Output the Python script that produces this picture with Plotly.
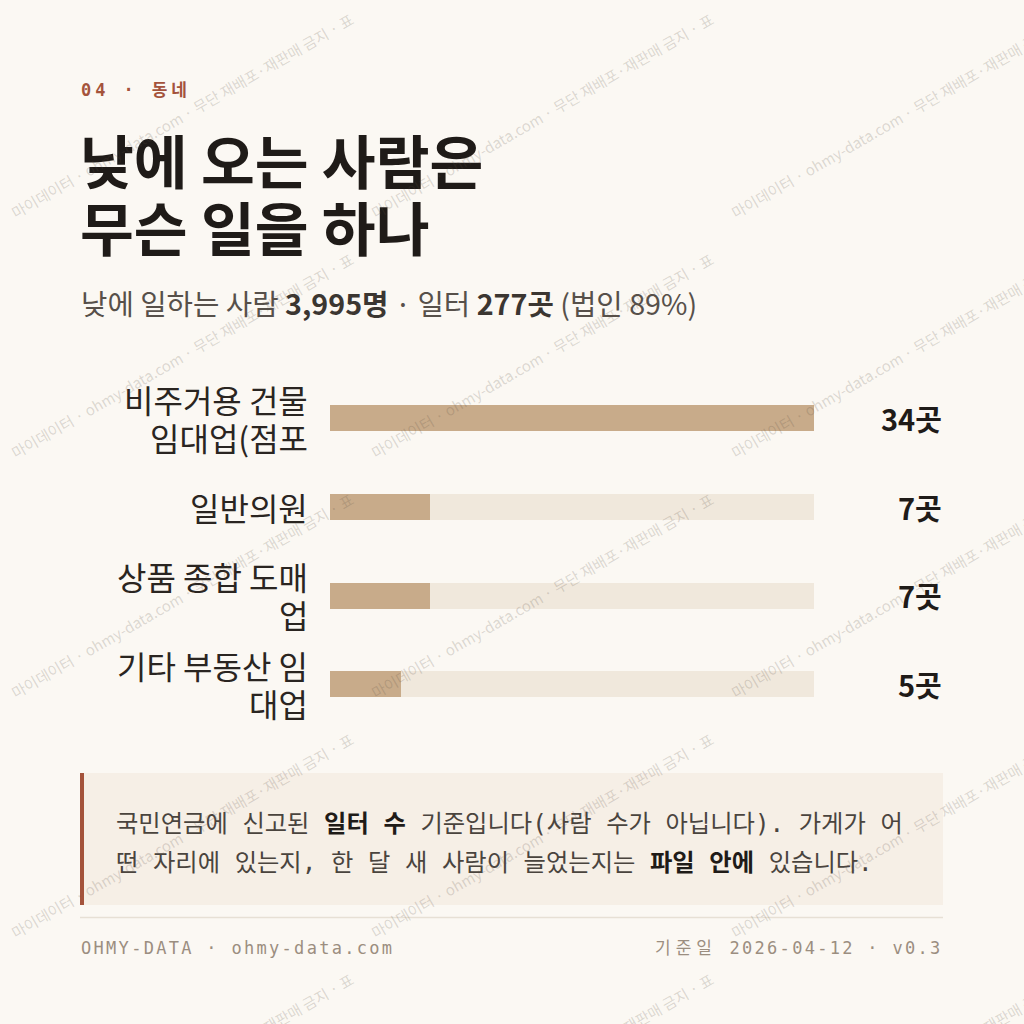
import plotly.graph_objects as go

W = H = 1024

# ---------------- data ----------------
categories = ["비주거용 건물 임대업(점포", "일반의원", "상품 종합 도매업", "기타 부동산 임대업"]
counts = [34, 7, 7, 5]
unit = "곳"

kicker = "04 · 동네"
title_lines = ["낮에 오는 사람은", "무슨 일을 하나"]
workers = "3,995명"
workplaces = "277곳"
corp_share = "89%"
note_line1 = ["국민연금에 신고된 ", "일터 수", " 기준입니다(사람 수가 아닙니다). 가게가 어"]
note_line2 = ["떤 자리에 있는지, 한 달 새 사람이 늘었는지는 ", "파일 안에", " 있습니다."]
footer_left = "OHMY-DATA · ohmy-data.com"
footer_right_label = "기준일"
footer_right_value = "2026-04-12 · v0.3"
watermark = "마이데이터 · ohmy-data.com · 무단 재배포·재판매 금지 · 표"

# ---------------- style ----------------
BG = "#fbf8f3"
BAR = "#c8ab8a"
TRACK = "#f0e8dc"
BOX = "#f6efe6"
RUST = "#a4533b"
INK = "#1f1b18"
SUB = "#57504a"
MUTED = "#9b8e80"
SANS = "Noto Sans CJK KR, Noto Sans, sans-serif"
MONO = "DejaVu Sans Mono, Noto Sans Mono CJK KR, Noto Sans CJK KR, monospace"


def px(x):
    return x / W


def py(y):
    return 1 - y / H


def wrap(label, maxw=7.0):
    lines, cur, w = [], "", 0.0
    for ch in label:
        cw = 0.25 if ch == " " else (0.35 if ch in "()" else 1.0)
        if w + cw > maxw and ch != " ":
            lines.append(cur.rstrip())
            cur, w = ch, cw
        else:
            cur += ch
            w += cw
    lines.append(cur.rstrip())
    return lines


fig = go.Figure()
n = len(categories)
vmax = max(counts)
bar_w = 0.293

fig.add_trace(go.Bar(
    x=[vmax] * n, y=categories, orientation="h", width=bar_w,
    marker=dict(color=TRACK, line=dict(width=0)), hoverinfo="skip", showlegend=False))
fig.add_trace(go.Bar(
    x=counts, y=categories, orientation="h", width=bar_w,
    marker=dict(color=BAR, line=dict(width=0)), hoverinfo="skip", showlegend=False))

# plot area geometry (pixels)
x0, x1 = 330, 814
row_first, row_last = 418, 684
step = (row_last - row_first) / (n - 1)
ytop = row_first - step / 2
ybot = row_last + step / 2

ann = []


def text(x, y, t, size, color, family=SANS, xanchor="left", yanchor="middle", **kw):
    ann.append(dict(x=px(x), y=py(y), xref="paper", yref="paper", text=t, showarrow=False,
                    xanchor=xanchor, yanchor=yanchor, font=dict(size=size, color=color, family=family),
                    **kw))


# kicker
text(79, 90, f'<span style="letter-spacing:3.9px"><b>{kicker}</b></span>', 17, RUST, MONO)
# title
text(78, 158, f"<b>{title_lines[0]}</b>", 58.5, INK)
text(78, 225, f"<b>{title_lines[1]}</b>", 58.5, INK)
# subtitle
text(79, 302,
     f'낮에 일하는 사람 <b><span style="color:#3b3631">{workers}</span></b> · 일터 '
     f'<b><span style="color:#3b3631">{workplaces}</span></b> (법인 {corp_share})', 28.7, SUB)

# category labels and values
LINE_H = 38
for cat, v in zip(categories, counts):
    lines = wrap(cat)
    k = len(lines)
    for i, line in enumerate(lines):
        ann.append(dict(x=px(310), y=cat, xref="paper", yref="y", text=line, showarrow=False,
                        xanchor="right", yanchor="middle", align="right",
                        yshift=-(i - (k - 1) / 2) * LINE_H,
                        font=dict(size=32, color="#2a2521", family=SANS)))
    ann.append(dict(x=px(944), y=cat, xref="paper", yref="y", text=f"<b>{v}{unit}</b>", showarrow=False,
                    xanchor="right", yanchor="middle",
                    font=dict(size=29, color=INK, family=SANS)))

# note box
shapes = [
    dict(type="rect", xref="paper", yref="paper", x0=px(80), x1=px(943), y0=py(905), y1=py(773),
         fillcolor=BOX, line=dict(width=0), layer="below"),
    dict(type="rect", xref="paper", yref="paper", x0=px(80), x1=px(84), y0=py(905), y1=py(773),
         fillcolor=RUST, line=dict(width=0), layer="below"),
    dict(type="line", xref="paper", yref="paper", x0=px(80), x1=px(943), y0=py(917.5), y1=py(917.5),
         line=dict(color="#e7e0d5", width=1.5)),
]


def note(parts):
    a, b, c = parts
    return f'{a}<b><span style="color:{INK}">{b}</span></b>{c}'


text(114, 823, note(note_line1), 24.3, "#4a443e", MONO)
text(114, 862, note(note_line2), 24.3, "#4a443e", MONO)

# footer
text(79, 948, f'<span style="letter-spacing:2.3px">{footer_left}</span>', 17, MUTED, MONO)
text(945, 948,
     f'<span style="letter-spacing:5px">{footer_right_label}</span>'
     f'<span style="letter-spacing:2.3px"> {footer_right_value}</span>', 17, MUTED, MONO, xanchor="right")

# watermark tiles
for ty in range(0, 1200, 240):
    for tx in range(0, 1080, 360):
        ann.append(dict(x=px(tx + 182), y=py(ty + 115), xref="paper", yref="paper", text=watermark,
                        showarrow=False, textangle=-30, xanchor="center", yanchor="middle",
                        font=dict(size=15, color="rgba(90,78,66,0.2)", family=SANS)))

fig.update_layout(
    width=W, height=H, margin=dict(l=0, r=0, t=0, b=0),
    paper_bgcolor=BG, plot_bgcolor="rgba(0,0,0,0)",
    barmode="overlay", bargap=0,
    xaxis=dict(domain=[px(x0), px(x1)], range=[0, vmax], visible=False, fixedrange=True),
    yaxis=dict(domain=[py(ybot), py(ytop)], type="category", categoryorder="array",
               categoryarray=categories, range=[n - 0.5, -0.5], visible=False, fixedrange=True),
    annotations=ann, shapes=shapes,
)

fig.write_html("out.html", config=dict(displayModeBar=False),
               post_script="document.body.style.margin='0';")
